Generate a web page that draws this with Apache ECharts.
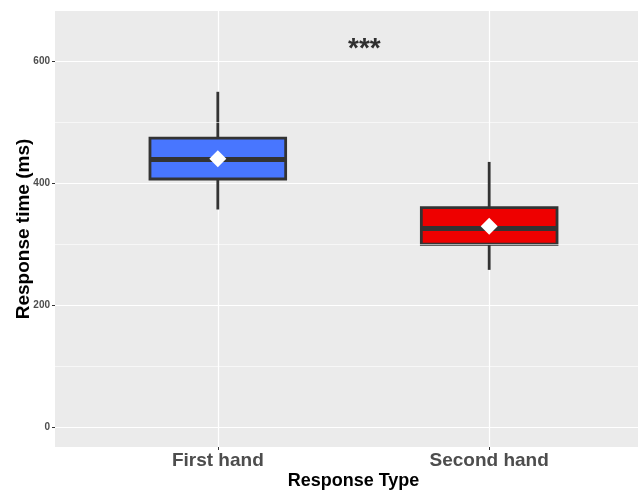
<!DOCTYPE html>
<html>
<head>
<meta charset="utf-8">
<script src="https://cdn.jsdelivr.net/npm/echarts@6/dist/echarts.min.js"></script>
<style>
  html, body { margin: 0; padding: 0; background: #ffffff; }
  #chart { width: 638px; height: 492px; }
</style>
</head>
<body>
<div id="chart"></div>
<script>
// Response time by response type
const categories = ['First hand', 'Second hand'];
const lowerWhisker = [357, 258];
const q1 = [407, 300];
const median = [439, 326];
const q3 = [474, 360];
const upperWhisker = [550, 435];
const means = [440, 329.5];
const yTicks = [0, 200, 400, 600];
const yMinorTicks = [100, 300, 500];
const significance = { x: 1.54, y: 620, text: '***' };

const fills = ['#4876FF', '#EE0000'];
const INK = '#333333';
const BOX_WIDTH = 0.5;

const boxData = categories.map((c, i) => [i + 1, lowerWhisker[i], q1[i], median[i], q3[i], upperWhisker[i]]);
const meanData = categories.map((c, i) => [i + 1, means[i]]);

const chart = echarts.init(document.getElementById('chart'), null, { renderer: 'canvas' });

chart.setOption({
  backgroundColor: '#ffffff',
  animation: false,
  grid: {
    left: 55, top: 11, width: 597, height: 436,
    outerBoundsMode: 'none',
    containLabel: false,
    show: true, backgroundColor: '#EBEBEB', borderWidth: 0
  },
  xAxis: {
    type: 'value',
    min: 0.4, max: 2.6,
    name: 'Response Type',
    nameLocation: 'middle',
    nameGap: 25,
    nameMoveOverlap: false,
    nameTextStyle: { fontFamily: 'Liberation Sans', fontWeight: 'bold', fontSize: 18, color: '#000' },
    axisLine: { show: false, onZero: false },
    axisTick: { show: true, customValues: [1, 2], length: 3, lineStyle: { color: INK, width: 1 } },
    axisLabel: {
      customValues: [1, 2],
      formatter: v => categories[Math.round(v) - 1] || '',
      margin: 4,
      fontFamily: 'Liberation Sans', fontWeight: 'bold', fontSize: 19, color: '#4D4D4D'
    },
    splitLine: { show: true, lineStyle: { color: '#ffffff', width: 1.2 } }
  },
  yAxis: {
    type: 'value',
    min: -32.5, max: 682.5,
    name: 'Response time (ms)',
    nameLocation: 'middle',
    nameGap: 22,
    nameMoveOverlap: false,
    nameRotate: 90,
    nameTextStyle: { fontFamily: 'Liberation Sans', fontWeight: 'bold', fontSize: 19, color: '#000' },
    axisLine: { show: false, onZero: false },
    axisTick: { show: true, customValues: yTicks, length: 3, lineStyle: { color: INK, width: 1 } },
    axisLabel: {
      customValues: yTicks,
      margin: 5,
      fontFamily: 'Liberation Sans', fontWeight: 'bold', fontSize: 10, color: '#4D4D4D'
    },
    splitLine: { show: true, lineStyle: { color: '#ffffff', width: 1.2 } }
  },
  series: [
    {
      // minor horizontal grid lines
      type: 'line',
      data: [],
      silent: true,
      z: 1,
      markLine: {
        silent: true,
        symbol: 'none',
        label: { show: false },
        lineStyle: { color: '#ffffff', width: 0.6, type: 'solid' },
        data: yMinorTicks.map(v => ({ yAxis: v }))
      }
    },
    {
      type: 'custom',
      z: 3,
      data: boxData,
      renderItem(params, api) {
        const x = api.value(0);
        const i = params.dataIndex;
        const c = api.coord([x, 0])[0];
        const left = api.coord([x - BOX_WIDTH / 2, 0])[0];
        const right = api.coord([x + BOX_WIDTH / 2, 0])[0];
        const yLow = api.coord([x, api.value(1)])[1];
        const yQ1 = api.coord([x, api.value(2)])[1];
        const yMed = api.coord([x, api.value(3)])[1];
        const yQ3 = api.coord([x, api.value(4)])[1];
        const yHigh = api.coord([x, api.value(5)])[1];
        return {
          type: 'group',
          children: [
            { type: 'line', shape: { x1: c, y1: yHigh, x2: c, y2: yQ3 }, style: { stroke: INK, lineWidth: 2.8 } },
            { type: 'line', shape: { x1: c, y1: yQ1, x2: c, y2: yLow }, style: { stroke: INK, lineWidth: 2.8 } },
            { type: 'rect', shape: { x: left, y: yQ3, width: right - left, height: yQ1 - yQ3 },
              style: { fill: fills[i], stroke: INK, lineWidth: 2.8 } },
            { type: 'line', shape: { x1: left, y1: yMed, x2: right, y2: yMed }, style: { stroke: INK, lineWidth: 5 } }
          ]
        };
      }
    },
    {
      type: 'scatter',
      z: 4,
      data: meanData,
      symbol: 'diamond',
      symbolSize: [17, 17],
      itemStyle: { color: '#ffffff', opacity: 1 }
    },
    {
      type: 'scatter',
      z: 4,
      data: [[significance.x, significance.y]],
      symbolSize: 0,
      label: {
        show: true,
        position: 'inside',
        formatter: significance.text,
        fontFamily: 'Liberation Sans',
        fontWeight: 'bold',
        fontSize: 28,
        color: '#000'
      }
    }
  ]
});
</script>
</body>
</html>
